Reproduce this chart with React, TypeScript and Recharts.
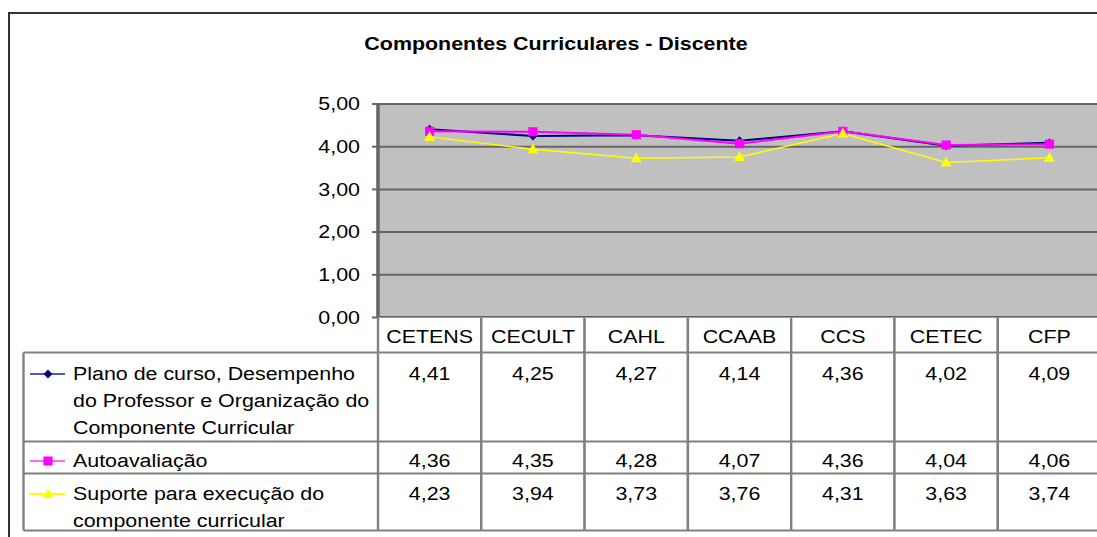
import React from 'react'
import { LineChart, Line, XAxis, YAxis, CartesianGrid } from 'recharts'

const categories = ['CETENS', 'CECULT', 'CAHL', 'CCAAB', 'CCS', 'CETEC', 'CFP']
const plano = [4.41, 4.25, 4.27, 4.14, 4.36, 4.02, 4.09]
const autoavaliacao = [4.36, 4.35, 4.28, 4.07, 4.36, 4.04, 4.06]
const suporte = [4.23, 3.94, 3.73, 3.76, 4.31, 3.63, 3.74]
const yTicks = [0, 1, 2, 3, 4, 5]

const seriesNames = [
  ['Plano de curso, Desempenho', 'do Professor e Organização do', 'Componente Curricular'],
  ['Autoavaliação'],
  ['Suporte para execução do', 'componente curricular'],
]

const data = categories.map((name, i) => ({
  name,
  plano: plano[i],
  auto: autoavaliacao[i],
  suporte: suporte[i],
}))

// the original picture is stretched horizontally, so the chart is drawn narrower and scaled
const S = 1.19
const FONT = '"Liberation Sans", Arial, sans-serif'
const PLOT_LEFT = 378 / S
const COL_W = 103.3 / S
const CHART_W = 940
const LEGEND_LEFT = 23.5 / S

const NAVY = '#000080'
const MAGENTA = '#FF00FF'
const YELLOW = '#FFFF00'
const GRID = '#666666'
const BORDER = '#808080'

const fmt = (v: number) => v.toFixed(2).replace('.', ',')

const rowValues = [plano, autoavaliacao, suporte]
const rowBaselines = [63, 150, 183]
const rowLines = [35, 124, 156, 213]

function Diamond({ cx, cy }: any) {
  const w = 3.6 / S
  return <path d={`M${cx},${cy - 3.6}L${cx + w},${cy}L${cx},${cy + 3.6}L${cx - w},${cy}Z`} fill={NAVY} stroke={NAVY} />
}

function Square({ cx, cy }: any) {
  const w = 4 / S
  return <rect x={cx - w} y={cy - 4} width={w * 2} height={8} fill={MAGENTA} stroke={MAGENTA} />
}

function Triangle({ cx, cy }: any) {
  const w = 4.5 / S
  return <path d={`M${cx},${cy - 4.5}L${cx + w},${cy + 3.5}L${cx - w},${cy + 3.5}Z`} fill={YELLOW} stroke={YELLOW} />
}

const markers = [Diamond, Square, Triangle]
const colors = [NAVY, MAGENTA, YELLOW]
const legendColors = ['#5555BB', '#FF66FF', YELLOW]

function TableColumn(props: any) {
  const { x, y, payload, index } = props
  const left = x - COL_W / 2
  const right = x + COL_W / 2
  return (
    <g>
      <rect x={left} y={y} width={COL_W} height={213} fill="#FFFFFF" />
      {index === 0 && (
        <g>
          <rect x={LEGEND_LEFT} y={y + 35} width={left - LEGEND_LEFT} height={178} fill="#FFFFFF" />
          {rowLines.map((d) => (
            <line key={d} x1={LEGEND_LEFT} x2={left} y1={y + d} y2={y + d} stroke={BORDER} strokeWidth={2} />
          ))}
          <line x1={LEGEND_LEFT} x2={LEGEND_LEFT} y1={y + 35} y2={y + 213} stroke={BORDER} strokeWidth={2} />
          {seriesNames.map((lines, r) => {
            const Marker = markers[r]
            const my = y + rowBaselines[r] - 6.5
            return (
              <g key={r}>
                <line x1={30 / S} x2={65 / S} y1={my} y2={my} stroke={legendColors[r]} strokeWidth={2} />
                <Marker cx={48 / S} cy={my} />
                {lines.map((t, k) => (
                  <text key={k} x={73 / S} y={y + rowBaselines[r] + k * 27} fontSize={18} fontFamily={FONT} fill="#000">
                    {t}
                  </text>
                ))}
              </g>
            )
          })}
        </g>
      )}
      {rowLines.map((d) => (
        <line key={d} x1={left} x2={right} y1={y + d} y2={y + d} stroke={BORDER} strokeWidth={2} />
      ))}
      <line x1={left} x2={left} y1={y} y2={y + 213} stroke={BORDER} strokeWidth={2} />
      <line x1={right} x2={right} y1={y} y2={y + 213} stroke={BORDER} strokeWidth={2} />
      <text x={x} y={y + 26} textAnchor="middle" fontSize={18} fontFamily={FONT} fill="#000">
        {payload.value}
      </text>
      {rowValues.map((vals, r) => (
        <text key={r} x={x} y={y + rowBaselines[r]} textAnchor="middle" fontSize={18} fontFamily={FONT} fill="#000">
          {fmt(vals[index])}
        </text>
      ))}
    </g>
  )
}

export default function App() {
  return (
    <div style={{ position: 'absolute', left: 0, top: 0, width: 1097, height: 537, overflow: 'hidden', background: '#fff' }}>
      <div style={{ position: 'absolute', left: 8, top: 12, width: 1300, height: 700, border: '2px solid #333' }} />
      <div style={{ position: 'absolute', left: 0, top: 0, width: CHART_W, height: 537, transform: `scaleX(${S})`, transformOrigin: '0 0' }}>
        <div
          style={{
            position: 'absolute',
            left: 0,
            top: 35,
            width: 2 * (556 / S),
            textAlign: 'center',
            fontFamily: FONT,
            fontWeight: 'bold',
            fontSize: 18,
            lineHeight: '18px',
            color: '#000',
          }}
        >
          Componentes Curriculares - Discente
        </div>
        <LineChart
          width={CHART_W}
          height={537}
          data={data}
          margin={{ top: 104, right: CHART_W - PLOT_LEFT - COL_W * 7, bottom: 0, left: 0 }}
        >
          <CartesianGrid vertical={false} fill="#C0C0C0" fillOpacity={1} stroke={GRID} strokeWidth={2} />
          <XAxis
            dataKey="name"
            scale="band"
            interval={0}
            height={219.5}
            tickSize={0}
            tickMargin={0}
            tickLine={false}
            axisLine={{ stroke: '#333', strokeWidth: 2 }}
            tick={<TableColumn />}
          />
          <YAxis
            width={PLOT_LEFT}
            domain={[0, 5]}
            ticks={yTicks}
            interval={0}
            tickFormatter={fmt}
            tickSize={6 / S}
            tickMargin={12 / S}
            axisLine={{ stroke: GRID, strokeWidth: 3 }}
            tickLine={{ stroke: GRID, strokeWidth: 2 }}
            tick={{ fill: '#000', fontSize: 18, fontFamily: FONT }}
          />
          <Line dataKey="plano" stroke={NAVY} strokeWidth={2} dot={<Diamond />} isAnimationActive={false} />
          <Line dataKey="auto" stroke={MAGENTA} strokeWidth={2} dot={<Square />} isAnimationActive={false} />
          <Line dataKey="suporte" stroke={YELLOW} strokeWidth={1.5} dot={<Triangle />} isAnimationActive={false} />
        </LineChart>
      </div>
    </div>
  )
}
